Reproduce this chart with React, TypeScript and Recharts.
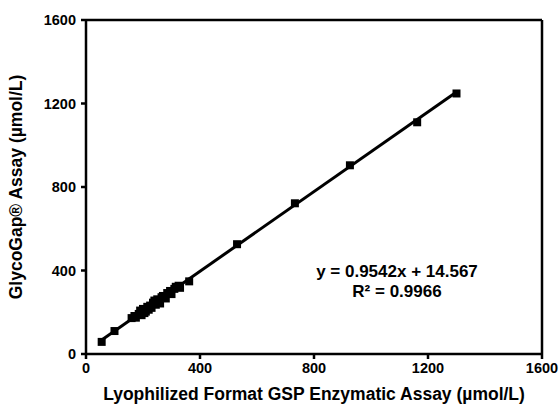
import {
  ScatterChart, Scatter, XAxis, YAxis, ReferenceLine, ReferenceArea, Label,
} from 'recharts';

// reference (x) vs GlycoGap (y), umol/L
const refValues = [
  55, 100, 160, 170, 175, 185, 190, 195, 200, 205, 210, 215, 220, 225, 230,
  235, 240, 245, 250, 255, 260, 265, 270, 280, 285, 295, 300, 310, 315, 325,
  330, 362, 530, 733, 926, 1162, 1300,
];
const glycoValues = [
  58, 110, 172, 182, 174, 192, 208, 186, 216, 196, 203, 226, 212, 232, 221,
  246, 256, 236, 262, 251, 242, 272, 278, 266, 292, 302, 287, 312, 322, 327,
  317, 348, 526, 722, 904, 1110, 1248,
];
const slope = 0.9542;
const intercept = 14.567;
const rSquared = 0.9966;
const axisTicks = [0, 400, 800, 1200, 1600];

const points = refValues.map((x, i) => ({ x, y: glycoValues[i] }));
const fitX = [Math.min(...refValues), Math.max(...refValues)];
const fitLine = fitX.map(x => ({ x, y: slope * x + intercept }));

const FONT = 'Arial, "Liberation Sans", Helvetica, sans-serif';
const tickStyle = { fontFamily: FONT, fontSize: 14.5, fontWeight: 700, fill: '#000' };

const EquationLabel = ({ viewBox }: any) => {
  if (!viewBox) return null;
  const cx = viewBox.x + viewBox.width * 0.682;
  const cy = viewBox.y + viewBox.height * 0.769;
  return (
    <text fontFamily={FONT} fontSize={17} fontWeight={700} fill="#000" textAnchor="middle">
      <tspan x={cx} y={cy}>{`y = ${slope}x + ${intercept}`}</tspan>
      <tspan x={cx} y={cy + 20}>{`R² = ${rSquared}`}</tspan>
    </text>
  );
};

export default function App() {
  return (
    <div style={{ position: 'absolute', left: 0, top: 0, background: '#fff' }}>
      <ScatterChart width={560} height={407} margin={{ top: 20, right: 18, bottom: 0, left: 0 }}>
        <XAxis
          type="number"
          dataKey="x"
          domain={[0, 1600]}
          ticks={axisTicks}
          height={53}
          tick={tickStyle}
          tickSize={5}
          tickMargin={4}
          stroke="#000"
          strokeWidth={2.5}
          tickLine={{ stroke: '#000', strokeWidth: 2.5 }}
          allowDataOverflow
        >
          <Label
            value="Lyophilized Format GSP Enzymatic Assay (µmol/L)"
            position="insideBottom"
            offset={7}
            style={{ fontFamily: FONT, fontSize: 17.5, fontWeight: 700, fill: '#000' }}
          />
        </XAxis>
        <YAxis
          type="number"
          dataKey="y"
          domain={[0, 1600]}
          ticks={axisTicks}
          width={86}
          tick={tickStyle}
          tickSize={5}
          tickMargin={5}
          stroke="#000"
          strokeWidth={2.5}
          tickLine={{ stroke: '#000', strokeWidth: 2.5 }}
          allowDataOverflow
        >
          <Label
            value="GlycoGap® Assay (µmol/L)"
            angle={-90}
            position="insideLeft"
            offset={16}
            style={{ textAnchor: 'middle', fontFamily: FONT, fontSize: 17.5, fontWeight: 700, fill: '#000' }}
          />
        </YAxis>
        <ReferenceLine y={1600} stroke="#000" strokeWidth={2.5} />
        <ReferenceLine x={1600} stroke="#000" strokeWidth={2.5} />
        <Scatter
          data={fitLine}
          line={{ stroke: '#000', strokeWidth: 3 }}
          shape={() => null}
          isAnimationActive={false}
        />
        <Scatter
          data={points}
          shape="square"
          fill="#000"
          size={64}
          isAnimationActive={false}
        />
        <ReferenceArea
          x1={0}
          x2={1600}
          y1={0}
          y2={1600}
          fill="none"
          stroke="none"
          label={<EquationLabel />}
        />
      </ScatterChart>
    </div>
  );
}
